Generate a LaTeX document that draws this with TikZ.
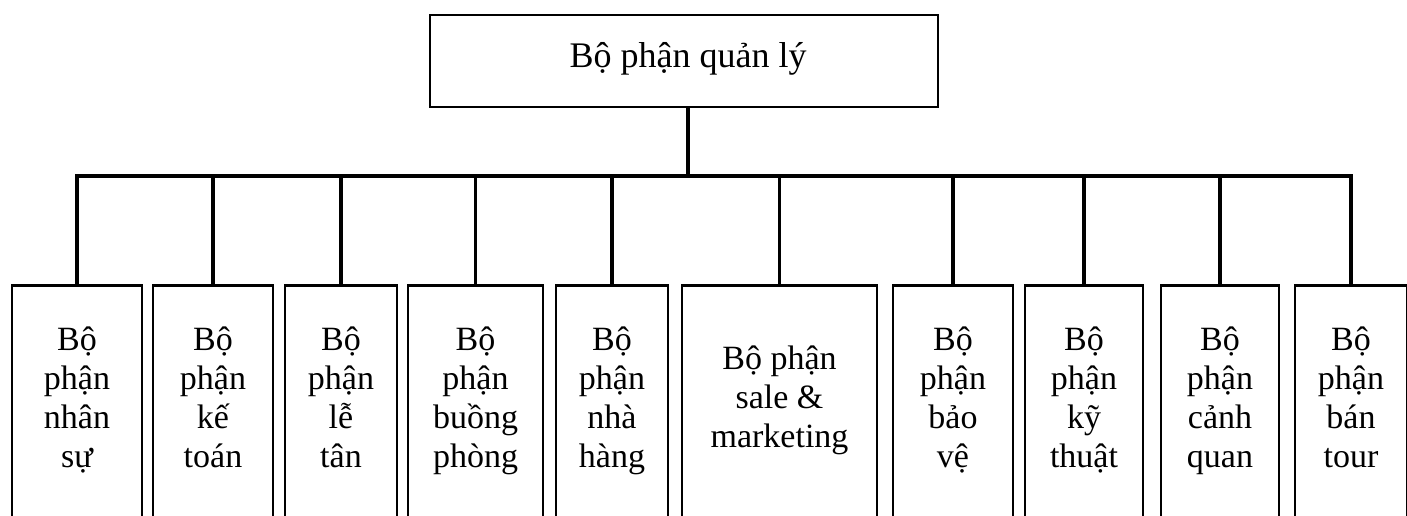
\documentclass[tikz,border=0pt]{standalone}
\usepackage{fontspec}
\setmainfont{Liberation Serif}
\begin{document}
\begin{tikzpicture}[x=1pt,y=-1pt,
  box/.style={draw=black, line width=2.5pt, fill=none, inner sep=0pt, anchor=north, minimum height=256pt},
  topbox/.style={draw=black, line width=2pt, inner sep=0pt, minimum width=508pt, minimum height=92pt},
  lbl/.style={align=center, inner sep=0pt, font=\fontsize{34}{39}\selectfont},
  toplbl/.style={inner sep=0pt, font=\fontsize{36}{40}\selectfont},
  conn/.style={draw=black, line width=3.2pt}]
\clip (0,0) rectangle (1407,516);
\fill[white] (0,0) rectangle (1407,516);
% top box
\node[topbox] (top) at (684,61) {};
\node[toplbl] (ttop) at (688,60) {\strut Bộ phận quản lý};
% bottom boxes
\node[box, minimum width=130pt] (b1) at (77,284) {};
\node[box, minimum width=120pt] (b2) at (213,284) {};
\node[box, minimum width=112pt] (b3) at (341,284) {};
\node[box, minimum width=135pt] (b4) at (475.5,284) {};
\node[box, minimum width=112pt] (b5) at (612,284) {};
\node[box, minimum width=195pt] (b6) at (779.5,284) {};
\node[box, minimum width=120pt] (b7) at (953,284) {};
\node[box, minimum width=118pt] (b8) at (1084,284) {};
\node[box, minimum width=118pt] (b9) at (1220,284) {};
\node[box, minimum width=112pt] (b10) at (1351,284) {};
% texts
\node[lbl] (t1) at (77,401) {\strut Bộ\\\strut phận\\\strut nhân\\\strut sự};
\node[lbl] (t2) at (213,401) {\strut Bộ\\\strut phận\\\strut kế\\\strut toán};
\node[lbl] (t3) at (341,401) {\strut Bộ\\\strut phận\\\strut lễ\\\strut tân};
\node[lbl] (t4) at (475.5,401) {\strut Bộ\\\strut phận\\\strut buồng\\\strut phòng};
\node[lbl] (t5) at (612,401) {\strut Bộ\\\strut phận\\\strut nhà\\\strut hàng};
\node[lbl] (t6) at (779.5,401) {\strut Bộ phận\\\strut sale \&\\\strut marketing};
\node[lbl] (t7) at (953,401) {\strut Bộ\\\strut phận\\\strut bảo\\\strut vệ};
\node[lbl] (t8) at (1084,401) {\strut Bộ\\\strut phận\\\strut kỹ\\\strut thuật};
\node[lbl] (t9) at (1220,401) {\strut Bộ\\\strut phận\\\strut cảnh\\\strut quan};
\node[lbl] (t10) at (1351,401) {\strut Bộ\\\strut phận\\\strut bán\\\strut tour};
% connectors
\coordinate (bar) at (688,176);
\draw[conn] (top.south -| bar) -- (bar);
\draw[conn, line cap=rect] (b1.north) -- (b1.north |- bar) -- (b10.north |- bar) -- (b10.north);
\foreach \i in {2,...,9} {
  \draw[conn] (b\i.north |- bar) -- (b\i.north);
}
\end{tikzpicture}
\end{document}
